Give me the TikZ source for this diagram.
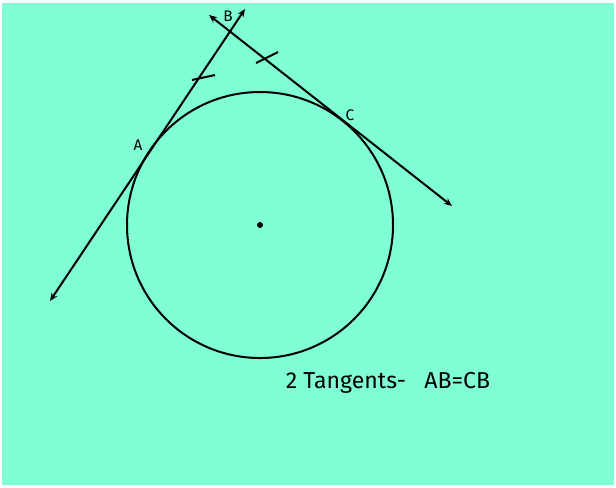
\documentclass[tikz,border=0pt]{standalone}
\usepackage{fontspec}
\setmainfont{Fira Sans}
\usetikzlibrary{arrows.meta}
\definecolor{aqua}{HTML}{80FFD5}
\tikzset{
  tline/.style={line width=1.5pt, {Stealth[length=6pt,width=5pt]}-{Stealth[length=6pt,width=5pt]}},
  tick/.style={line width=1.5pt},
  ptlabel/.style={font=\fontsize{11.5}{13}\selectfont, inner sep=0pt},
}
\begin{document}
\begin{tikzpicture}[x=0.75pt,y=-0.75pt]
\useasboundingbox (0,0) rectangle (616,487);
\fill[white] (0,0) rectangle (616,487);
\fill[aqua] (2,3) rectangle (614,485);
\node[draw, circle, line width=1.5pt, minimum size=266*0.75pt, inner sep=0pt] (O) at (260,225) {};
\fill (O.center) circle (3);
\coordinate (L1a) at (50,301);
\coordinate (L1b) at (245,9);
\coordinate (L2a) at (209,15);
\coordinate (L2b) at (452,206);
\draw[tline] (L1a) -- (L1b);
\draw[tline] (L2a) -- (L2b);
\coordinate (T1a) at (192,80);
\coordinate (T1b) at (215,75);
\coordinate (T2a) at (256,63);
\coordinate (T2b) at (278,52);
\draw[tick] (T1a) -- (T1b);
\draw[tick] (T2a) -- (T2b);
\node[ptlabel] (B) at (228,16) {B};
\node[ptlabel] (A) at (138,145) {A};
\node[ptlabel] (C) at (350,115) {C};
\node[font=\fontsize{17.3}{20}\selectfont, inner sep=0pt] (cap) at (388,383) {2 Tangents-\ \ \ AB=CB};
\end{tikzpicture}
\end{document}
